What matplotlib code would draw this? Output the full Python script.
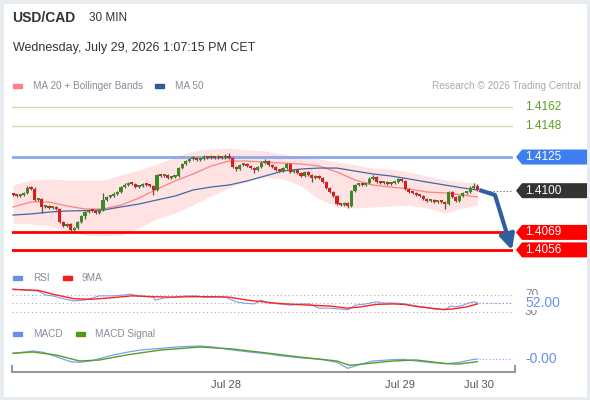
import matplotlib
matplotlib.use("Agg")
import matplotlib.pyplot as plt
from matplotlib.patches import Polygon, Rectangle

plt.rcParams['font.family'] = ['Liberation Sans', 'DejaVu Sans']

# ---- data ----
first_open = 1.40975
closes = [
    1.40968, 1.40960, 1.40968, 1.40983, 1.41020, 1.41012, 1.40931, 1.40938, 1.40879, 1.40886,
    1.40871, 1.40879, 1.40864, 1.40767, 1.40738, 1.40753, 1.40708, 1.40723, 1.40767, 1.40812,
    1.40841, 1.40856, 1.40849, 1.40834, 1.40856, 1.40931, 1.40953, 1.40960, 1.40975, 1.40990,
    1.41027, 1.41042, 1.41057, 1.41049, 1.41027, 1.41035, 1.41049, 1.41042, 1.41035, 1.41005,
    1.41116, 1.41109, 1.41116, 1.41094, 1.41101, 1.41109, 1.41168, 1.41198, 1.41220, 1.41235,
    1.41243, 1.41228, 1.41235, 1.41250, 1.41243, 1.41250, 1.41243, 1.41250, 1.41243, 1.41250,
    1.41243, 1.41176, 1.41161, 1.41191, 1.41198, 1.41183, 1.41168, 1.41153, 1.41176, 1.41205,
    1.41220, 1.41191, 1.41176, 1.41153, 1.41146, 1.41168, 1.41198, 1.41139, 1.41153, 1.41131,
    1.41109, 1.41139, 1.41116, 1.41094, 1.41109, 1.41094, 1.41064, 1.41020, 1.40990, 1.40960,
    1.40901, 1.40893, 1.40908, 1.40886, 1.40997, 1.41042, 1.41049, 1.41042, 1.41057, 1.41087,
    1.41101, 1.41064, 1.41057, 1.41064, 1.41049, 1.41057, 1.41064, 1.41087, 1.41072, 1.41012,
    1.40990, 1.40983, 1.40968, 1.40960, 1.40938, 1.40923, 1.40931, 1.40916, 1.40923, 1.40916,
    1.40901, 1.40990, 1.40953, 1.40923, 1.40960, 1.40983, 1.40990, 1.41020, 1.41035, 1.41005,
]
# wick lengths beyond the body, in pips
wick_up = [
    1, 1, 1, 1, 2, 3, 3, 1, 1, 1,
    1, 1, 1, 1, 1, 1, 1, 1, 1, 1,
    1, 1, 1, 1, 1, 9, 1, 1, 2, 1,
    1, 2, 1, 1, 1, 1, 1, 1, 1, 1,
    1, 1, 1, 1, 1, 1, 1, 1, 1, 1,
    2, 1, 1, 2, 1, 2, 1, 2, 1, 4,
    5, 1, 1, 1, 1, 1, 1, 1, 1, 2,
    2, 1, 1, 1, 1, 1, 1, 1, 1, 1,
    1, 1, 1, 1, 1, 1, 1, 1, 1, 1,
    1, 1, 1, 1, 1, 1, 1, 1, 1, 2,
    3, 1, 1, 1, 1, 1, 1, 1, 1, 1,
    1, 1, 1, 1, 1, 1, 1, 1, 1, 1,
    1, 1, 1, 1, 1, 1, 1, 3, 4, 2,
]
wick_dn = [
    1, 1, 1, 1, 1, 1, 1, 1, 7, 1,
    1, 1, 1, 1, 1, 1, 2, 1, 1, 1,
    4, 1, 1, 1, 1, 1, 1, 1, 1, 1,
    1, 1, 1, 1, 1, 1, 1, 1, 1, 6,
    1, 1, 1, 1, 1, 1, 1, 1, 1, 1,
    1, 1, 1, 1, 1, 1, 1, 1, 1, 1,
    1, 1, 3, 1, 1, 1, 1, 4, 1, 1,
    1, 1, 1, 1, 1, 1, 1, 1, 1, 1,
    1, 1, 1, 5, 1, 1, 1, 1, 1, 1,
    1, 1, 1, 2, 1, 1, 1, 1, 1, 1,
    1, 1, 1, 1, 1, 1, 1, 1, 1, 1,
    1, 1, 1, 1, 1, 1, 1, 1, 1, 1,
    6, 1, 1, 1, 1, 1, 1, 1, 1, 1,
]

band_idx = [0, 5, 10, 15, 20, 25, 30, 35, 40, 45, 50, 55, 60, 65, 70, 75, 80, 85, 90,
            95, 100, 105, 110, 115, 120, 125, 129]
ma50 = [1.40819, 1.40827, 1.40841, 1.40849, 1.40852, 1.40856, 1.40879, 1.40901, 1.40931,
        1.40960, 1.41005, 1.41027, 1.41042, 1.41072, 1.41109, 1.41146, 1.41161, 1.41168,
        1.41168, 1.41146, 1.41124, 1.41109, 1.41087, 1.41064, 1.41042, 1.41020, 1.41005]
ma20 = [1.40879, 1.40916, 1.40916, 1.40886, 1.40864, 1.40864, 1.40893, 1.40945, 1.41012,
        1.41072, 1.41124, 1.41183, 1.41220, 1.41220, 1.41213, 1.41205, 1.41198, 1.41183,
        1.41139, 1.41079, 1.41042, 1.41027, 1.41012, 1.40990, 1.40983, 1.40968, 1.40953]
bb_upper = [1.41042, 1.41079, 1.41087, 1.41079, 1.41079, 1.41079, 1.41116, 1.41153, 1.41198,
            1.41250, 1.41295, 1.41309, 1.41317, 1.41302, 1.41295, 1.41272, 1.41250, 1.41235,
            1.41213, 1.41191, 1.41168, 1.41161, 1.41139, 1.41109, 1.41079, 1.41064, 1.41057]
bb_lower = [1.40760, 1.40753, 1.40738, 1.40701, 1.40671, 1.40664, 1.40671, 1.40723, 1.40790,
            1.40834, 1.40893, 1.40960, 1.41020, 1.41072, 1.41101, 1.41087, 1.41035, 1.40938,
            1.40879, 1.40871, 1.40879, 1.40886, 1.40893, 1.40871, 1.40834, 1.40871, 1.40893]

resistances = [1.4162, 1.4148]
pivot = 1.4125
last_price = 1.4100
supports = [1.4069, 1.4056]
forecast_idx = [129.5, 133.9, 138.6]
forecast_px = [1.41005, 1.40968, 1.40559]

rsi_idx = [0, 7, 9, 11, 14, 17, 20, 24, 28, 31, 32.5, 35, 39, 39.5, 42, 45, 48, 51, 53, 56,
           59, 62, 64, 67, 69, 71, 74, 77, 80, 82.5, 85, 88, 91, 93, 95, 98, 101, 103, 106, 109,
           112, 114, 117, 120, 121.5, 123, 125, 126.5, 128, 129]
rsi = [84, 79, 70, 68, 61, 56, 58, 68, 68, 70, 72, 68, 65, 58, 63, 65, 68, 68, 65, 65,
       65, 54, 51, 49, 58, 51, 49, 46, 49, 49, 39, 39, 37, 35, 46, 49, 54, 51, 51, 49,
       44, 42, 37, 35, 44, 42, 46, 51, 54, 52]
rsi_ma_idx = [0, 7, 11, 17, 22, 28, 33, 39, 44, 50, 56, 60, 65, 70.5, 74, 82.5, 88, 93, 96.5,
              101, 105.5, 108.5, 113, 119.5, 122, 126, 129]
rsi_ma = [83, 81, 72, 61, 60, 64, 68, 66, 65, 66, 66, 65, 58, 53, 50, 46, 44, 39, 42,
          48, 49, 48, 42, 36, 37, 42, 49]
rsi_last = 52.00

macd_idx = [0, 5.5, 8.5, 12, 16, 18.5, 22, 27, 31.5, 35.5, 41, 46.5, 52, 55.5, 61, 66.5,
            70.5, 74, 79.5, 85.5, 90, 93, 96.5, 100, 105.5, 108.5, 112, 116.5, 120.5, 124,
            128, 129]
macd = [0.00014, 0.00021, 0.00017, 0.00004, -0.00011, -0.00013, -0.00008, 0.00007, 0.00017,
        0.00024, 0.00029, 0.00034, 0.00036, 0.00033, 0.00024, 0.00017, 0.00013, 0.00007,
        0.00001, -0.00004, -0.00013, -0.00031, -0.00019, -0.00009, -0.00005, -0.00004,
        -0.00009, -0.00014, -0.00017, -0.00013, -0.00004, -0.00003]
signal_idx = [0, 5.5, 12, 18.5, 24, 31.5, 41, 52, 61, 70.5, 79.5, 90, 93.5, 105.5, 112,
              120.5, 124, 129]
signal = [0.00014, 0.00018, 0.00009, -0.00009, -0.00006, 0.00009, 0.00024, 0.00033, 0.00027,
          0.00015, 0.00003, -0.00009, -0.00022, -0.00009, -0.00006, -0.00017, -0.00018,
          -0.00011]

day_ticks = [58.9, 107, 129]
day_labels = ["Jul 28", "Jul 29", "Jul 30"]

# ---- layout helpers (pixel based, 590x400) ----
W, H = 590, 400
fig = plt.figure(figsize=(W / 100, H / 100), dpi=100)
fig.patch.set_facecolor("white")


def px_axes(x0, y0, x1, y1):
    a = fig.add_axes([x0 / W, 1 - y1 / H, (x1 - x0) / W, (y1 - y0) / H])
    a.set_facecolor("none")
    a.axis("off")
    return a


def ftext(x, y, s, **kw):
    kw.setdefault("va", "center")
    return fig.text(x / W, 1 - y / H, s, **kw)


def swatch(x, y, color):
    fig.add_artist(Rectangle((x / W, 1 - (y + 2) / H), 9 / W, 4 / H,
                             color=color, transform=fig.transFigure))


XLIM = (-0.28, 138.9)
YLIM = (1.40470, 1.41711)

# header
ftext(12, 18, "USD/CAD", fontsize=10, fontweight="bold", color="#333333")
ftext(89, 18, "30 MIN", fontsize=8.5, color="#333333")
ftext(13, 48, "Wednesday, July 29, 2026 1:07:15 PM CET", fontsize=9, color="#333333")

swatch(13, 86, "#ff8080")
ftext(33, 86, "MA 20 + Bollinger Bands", fontsize=7.2, color="#8a8a9a")
swatch(155, 86, "#2f5a9a")
ftext(175, 86, "MA 50", fontsize=7.2, color="#8a8a9a")
ftext(581, 86, "Research \u00a9 2026 Trading Central", fontsize=7.2, color="#aaaaaa", ha="right")

# ---- price panel ----
ax = px_axes(12, 95, 513, 262)
ax.set_xlim(*XLIM)
ax.set_ylim(*YLIM)

ax.fill_between(band_idx, bb_lower, bb_upper, color="#ffe2e2", lw=0, zorder=0.5)
ax.plot(band_idx, ma20, color="#ff8080", lw=0.9, zorder=2)
ax.plot(band_idx, ma50, color="#3d6aa8", lw=0.9, zorder=2)

for lv in resistances:
    ax.axhline(lv, color="#c8e2a8", lw=1, zorder=1)
ax.axhline(pivot, color="#8aa8f0", lw=2, zorder=1)
for lv in supports:
    ax.axhline(lv, color="#ff0000", lw=2, zorder=1)

pip = 0.0001
opens = [first_open] + closes[:-1]
for i, (o, c) in enumerate(zip(opens, closes)):
    col = "#3a8a22" if c >= o else "#d81e1e"
    top, bot = max(o, c), min(o, c)
    ax.vlines(i, bot - wick_dn[i] * pip * 0.6, top + wick_up[i] * pip * 0.6,
              color="#555555", lw=0.9, zorder=2.5)
    ax.bar(i, max(top - bot, 0.00012), bottom=bot, width=0.85, color=col, lw=0, zorder=3)

# current price dotted line and forecast arrow
ax.plot([130.5, XLIM[1]], [last_price, last_price], color="#555555", lw=0.8, ls=(0, (1, 2)))
ax.plot(forecast_idx[:2], forecast_px[:2], color="#2f5f9f", lw=3, solid_capstyle="butt", zorder=4)
ax.annotate("", xy=(forecast_idx[2], forecast_px[2]), xytext=(forecast_idx[1], forecast_px[1]),
            arrowprops=dict(arrowstyle="-|>,head_length=0.9,head_width=0.45", color="#2f5f9f",
                            lw=3, shrinkA=0, shrinkB=0), zorder=4, annotation_clip=False)

# level labels at right
lab = px_axes(513, 95, 590, 262)
lab.set_xlim(513, 590)
lab.set_ylim(*YLIM)
half = 7.5 * (YLIM[1] - YLIM[0]) / 167
for lv in resistances:
    lab.text(525, lv, f"{lv:.4f}", color="#5fa022", fontsize=8.5, va="center")
for lv, fc in [(pivot, "#3d7ff0"), (last_price, "#333333"),
               (supports[0], "#ff0000"), (supports[1], "#ff0000")]:
    lab.add_patch(Polygon([(516, lv), (522, lv + half), (587, lv + half),
                           (587, lv - half), (522, lv - half)], closed=True,
                          facecolor=fc, edgecolor="none", clip_on=False))
    lab.text(525, lv, f"{lv:.4f}", color="white", fontsize=8.5, va="center")

# ---- RSI panel ----
swatch(13, 278, "#6a8fe8")
ftext(33, 278, "RSI", fontsize=7.2, color="#8a8a9a")
swatch(63, 278, "#ff1a1a")
ftext(82, 278, "9MA", fontsize=7.2, color="#8a8a9a")

rax = px_axes(12, 285, 513, 318)
rax.set_xlim(*XLIM)
rax.set_ylim(15.9, 93.5)
for lv in (70, 50, 30):
    rax.axhline(lv, color="#aaaaaa", lw=0.8, ls=(0, (1, 2.5)))
rax.plot(rsi_idx, rsi, color="#7b9ef0", lw=0.8)
rax.plot(rsi_ma_idx, rsi_ma, color="#ff2020", lw=1)
rax.plot([129.5, XLIM[1]], [rsi_last, rsi_last], color="#7b9ef0", lw=0.8, ls=(0, (1, 2)))
rlab = px_axes(513, 285, 590, 318)
rlab.set_xlim(513, 590)
rlab.set_ylim(15.9, 93.5)
rlab.text(525, 71, "70", color="#888888", fontsize=8.5, va="center")
rlab.text(525, 29, "30", color="#888888", fontsize=8.5, va="center")
rlab.text(525, rsi_last, f"{rsi_last:.2f}", color="#6a8fe8", fontsize=10, va="center",
          bbox=dict(facecolor="white", edgecolor="none", pad=0.3))

# ---- MACD panel ----
swatch(13, 334, "#6a8fe8")
ftext(33, 334, "MACD", fontsize=7.2, color="#8a8a9a")
swatch(76, 334, "#4f9a1a")
ftext(95, 334, "MACD Signal", fontsize=7.2, color="#8a8a9a")

mylim = (-0.00036, 0.00054)
max_ = px_axes(12, 340, 513, 370)
max_.set_xlim(*XLIM)
max_.set_ylim(*mylim)
max_.plot(macd_idx, macd, color="#7b9ef0", lw=0.9)
max_.plot(signal_idx, signal, color="#55a020", lw=1)
max_.plot([129.5, XLIM[1]], [macd[-1], macd[-1]], color="#7b9ef0", lw=0.8, ls=(0, (1, 2)))
mlab = px_axes(513, 340, 590, 370)
mlab.set_xlim(513, 590)
mlab.set_ylim(*mylim)
mlab.text(525, macd[-1], "-0.00", color="#6a8fe8", fontsize=10, va="center")

# ---- time axis ----
tax = fig.add_axes([12 / W, 1 - 372 / H, (515 - 12) / W, 6 / H])
tax.set_facecolor("none")
tax.set_xlim(*XLIM)
tax.set_yticks([])
tax.spines["top"].set_visible(False)
for s in ("bottom", "left", "right"):
    tax.spines[s].set_color("#999999")
    tax.spines[s].set_linewidth(1.5)
tax.set_xticks(day_ticks)
tax.set_xticklabels(day_labels, fontsize=8, color="#555555")
tax.tick_params(axis="x", length=0, pad=6)

# light frame around the picture
fig.add_artist(Rectangle((0, 0), 1, 1, transform=fig.transFigure, fill=False,
                         edgecolor="#e6ecf0", lw=5))

fig.savefig("out.png", dpi=100)
